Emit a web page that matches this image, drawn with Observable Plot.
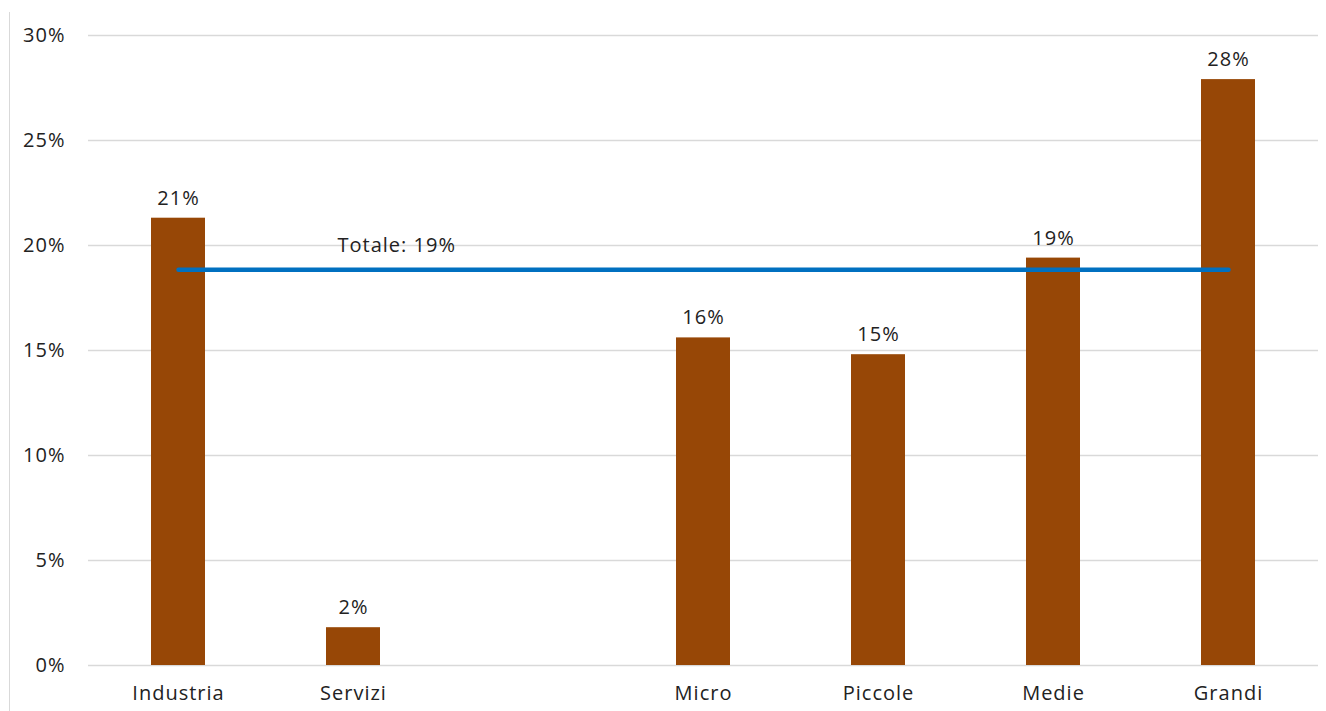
<!DOCTYPE html>
<html>
<head>
<meta charset="utf-8">
<script src="https://cdn.jsdelivr.net/npm/d3@7"></script>
<script src="https://cdn.jsdelivr.net/npm/@observablehq/plot@0.6"></script>
<style>
  html, body { margin: 0; padding: 0; background: #fff; }
  #wrap { position: relative; width: 1326px; height: 711px; }
  #frame { position: absolute; left: 9px; top: 12px; width: 0; height: 699px; border-left: 1.5px solid #d9d9d9; }
  svg text { letter-spacing: 1px; }
</style>
</head>
<body>
<div id="wrap"><div id="frame"></div></div>
<script>
const categories = ["Industria", "Servizi", " ", "Micro", "Piccole", "Medie", "Grandi"];
const barCategories = ["Industria", "Servizi", "Micro", "Piccole", "Medie", "Grandi"];
const values = [21.3, 1.8, 15.6, 14.8, 19.4, 27.9];
const valueLabels = ["21%", "2%", "16%", "15%", "19%", "28%"];
const totalValue = 18.85;
const totalLabel = "Totale: 19%";
const yTicks = [0, 5, 10, 15, 20, 25, 30];

const bars = barCategories.map((c, i) => ({c, v: values[i], label: valueLabels[i]}));
const totalLine = [{c: "Industria", v: totalValue}, {c: "Grandi", v: totalValue}];

const font = "'Open Sans', sans-serif";
const chart = Plot.plot({
  width: 1326,
  height: 711,
  marginLeft: 88,
  marginRight: 8,
  marginTop: 35,
  marginBottom: 46,
  style: {fontFamily: font, fontSize: "20px", color: "#222", background: "transparent"},
  x: {domain: categories, paddingInner: 0.69, paddingOuter: 0.345, label: null, tickSize: 0, tickPadding: 20},
  y: {domain: [0, 30], ticks: yTicks, tickFormat: d => d + "%", label: null, tickSize: 0, tickPadding: 23},
  marks: [
    Plot.gridY(yTicks, {stroke: "#d9d9d9", strokeOpacity: 1, strokeWidth: 1.3}),
    Plot.barY(bars, {x: "c", y: "v", fill: "#974706"}),
    Plot.text(bars, {x: "c", y: "v", text: "label", dy: -20, fill: "#222", fontSize: 20}),
    Plot.line(totalLine, {x: "c", y: "v", stroke: "#0070C0", strokeWidth: 4.5}),
    Plot.text([totalLine[0]], {x: () => "Servizi", y: "v", text: () => totalLabel, textAnchor: "start", dx: -16, dy: -24, fill: "#222", fontSize: 20})
  ]
});
document.getElementById("wrap").appendChild(chart);
chart.style.position = "absolute";
chart.style.left = "0";
chart.style.top = "0";
</script>
</body>
</html>
